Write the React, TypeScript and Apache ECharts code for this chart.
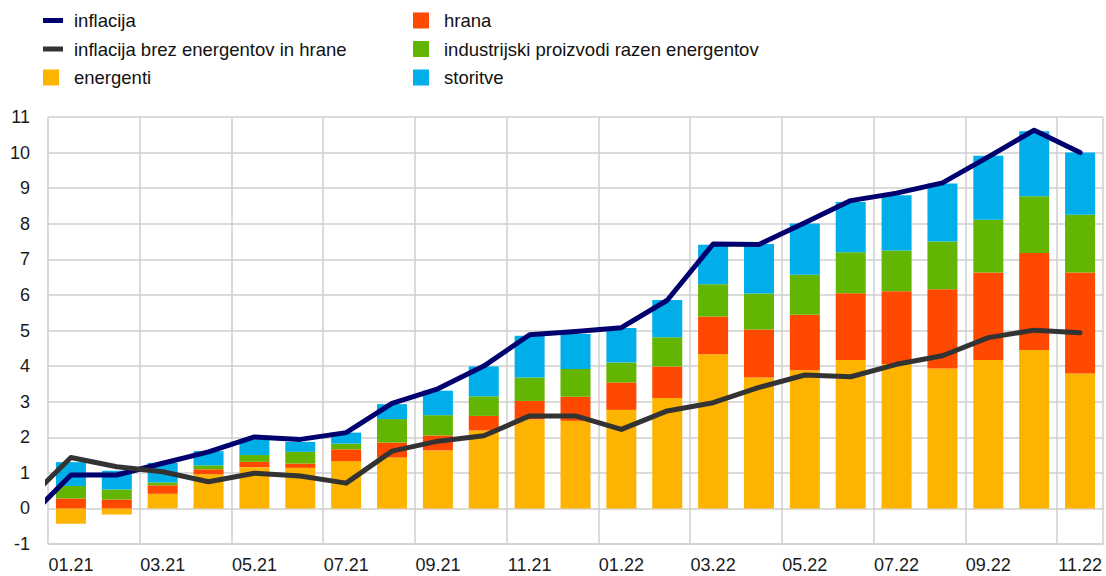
import React, { useEffect, useRef } from "react";
import * as echarts from "echarts";

const months = [
  "01.21", "02.21", "03.21", "04.21", "05.21", "06.21", "07.21", "08.21", "09.21", "10.21", "11.21", "12.21",
  "01.22", "02.22", "03.22", "04.22", "05.22", "06.22", "07.22", "08.22", "09.22", "10.22", "11.22",
];

const energenti = [-0.43, -0.17, 0.41, 0.96, 1.16, 1.14, 1.33, 1.43, 1.63, 2.19, 2.5, 2.46, 2.77, 3.1, 4.33, 3.68, 3.88, 4.17, 4.06, 3.93, 4.17, 4.45, 3.79];
const hrana = [0.28, 0.25, 0.24, 0.14, 0.15, 0.12, 0.33, 0.42, 0.42, 0.41, 0.52, 0.68, 0.77, 0.89, 1.06, 1.35, 1.56, 1.88, 2.04, 2.23, 2.46, 2.73, 2.84];
const industrijski = [0.35, 0.28, 0.08, 0.11, 0.19, 0.33, 0.16, 0.66, 0.57, 0.55, 0.66, 0.78, 0.56, 0.82, 0.91, 1.01, 1.13, 1.15, 1.15, 1.34, 1.48, 1.59, 1.62];
const storitve = [0.67, 0.53, 0.55, 0.4, 0.44, 0.28, 0.31, 0.42, 0.69, 0.84, 1.17, 0.98, 0.97, 1.05, 1.11, 1.39, 1.44, 1.41, 1.55, 1.63, 1.8, 1.83, 1.75];

const inflacija = [0.94, 0.94, 1.27, 1.59, 2.01, 1.94, 2.13, 2.95, 3.36, 4.0, 4.88, 4.97, 5.08, 5.85, 7.43, 7.42, 8.03, 8.65, 8.86, 9.15, 9.88, 10.63, 10.0];
const jedrna = [1.43, 1.17, 1.03, 0.75, 0.99, 0.91, 0.71, 1.61, 1.89, 2.04, 2.6, 2.6, 2.22, 2.74, 2.97, 3.4, 3.75, 3.7, 4.05, 4.29, 4.8, 5.01, 4.94];
// value of the previous month (12.20), only its segment is visible at the left edge
const inflacijaPrev = -0.36;
const jedrnaPrev = 0.17;

const yTicks = { min: -1, max: 11, interval: 1 };

const NAMES = {
  infl: "inflacija",
  core: "inflacija brez energentov in hrane",
  en: "energenti",
  food: "hrana",
  ind: "industrijski proizvodi razen energentov",
  serv: "storitve",
};

const COLORS = {
  infl: "#00006e",
  core: "#333333",
  en: "#fdb400",
  food: "#ff4800",
  ind: "#62b500",
  serv: "#00aeea",
};

const FONT = "'Liberation Sans', Arial, sans-serif";

const lineIcon = "path://M0,0h0.01v0.01h-0.01zM0,5.5h20v5h-20zM25.99,15.99h0.01v0.01h-0.01z";
const squareIcon = "path://M0,0h16v16h-16zM25.99,15.99h0.01v0.01h-0.01z";

export default function App() {
  const ref = useRef<HTMLDivElement>(null);
  useEffect(() => {
    if (!ref.current) return;
    const chart = echarts.init(ref.current, undefined, { renderer: "svg" });
    const toXY = (arr: number[], prev: number) => [[-1, prev], ...arr.map((v, i) => [i, v])];
    const legendCommon = {
      orient: "vertical" as const,
      top: 6,
      itemWidth: 26,
      itemHeight: 16,
      itemGap: 9.5,
      textStyle: { fontFamily: FONT, fontSize: 18.5, color: "#111", padding: [0, 0, 0, 0] },
      itemStyle: { borderWidth: 0 },
      lineStyle: { width: 0 },
      selectedMode: false,
    };
    const bar = (name: string, data: number[], color: string) => ({
      name,
      type: "bar",
      stack: "total",
      barWidth: 30,
      data,
      itemStyle: { color },
      xAxisIndex: 0,
      yAxisIndex: 0,
    });
    chart.setOption({
      animation: false,
      backgroundColor: "#ffffff",
      legend: [
        {
          ...legendCommon,
          left: 38,
          data: [
            { name: NAMES.infl, icon: lineIcon },
            { name: NAMES.core, icon: lineIcon },
            { name: NAMES.en, icon: squareIcon },
          ],
        },
        {
          ...legendCommon,
          left: 408,
          data: [
            { name: NAMES.food, icon: squareIcon },
            { name: NAMES.ind, icon: squareIcon },
            { name: NAMES.serv, icon: squareIcon },
          ],
        },
      ],
      grid: { left: 48, right: 3, top: 117, bottom: 32, containLabel: false },
      xAxis: [
        {
          type: "category",
          data: months,
          boundaryGap: true,
          axisLine: { onZero: false, lineStyle: { color: "#cfcfcf", width: 1.5 } },
          axisTick: { show: false },
          axisLabel: {
            interval: 1,
            fontFamily: FONT,
            fontSize: 18,
            color: "#1a1a1a",
            margin: 12,
          },
          splitLine: { show: true, interval: 1, lineStyle: { color: "#cfcfcf", width: 1.5 } },
        },
        {
          type: "value",
          min: -0.5,
          max: 22.5,
          show: false,
        },
      ],
      yAxis: {
        type: "value",
        min: yTicks.min,
        max: yTicks.max,
        interval: yTicks.interval,
        axisLine: { show: false },
        axisTick: { show: false },
        axisLabel: { fontFamily: FONT, fontSize: 18, color: "#1a1a1a", margin: 18 },
        splitLine: { lineStyle: { color: "#cfcfcf", width: 1.5 } },
      },
      series: [
        bar(NAMES.en, energenti, COLORS.en),
        bar(NAMES.food, hrana, COLORS.food),
        bar(NAMES.ind, industrijski, COLORS.ind),
        bar(NAMES.serv, storitve, COLORS.serv),
        {
          name: NAMES.infl,
          type: "line",
          xAxisIndex: 1,
          yAxisIndex: 0,
          data: toXY(inflacija, inflacijaPrev),
          showSymbol: false,
          symbol: "none",
          clip: true,
          itemStyle: { color: COLORS.infl },
          lineStyle: { color: COLORS.infl, width: 5, cap: "round", join: "round" },
          z: 5,
        },
        {
          name: NAMES.core,
          type: "line",
          xAxisIndex: 1,
          yAxisIndex: 0,
          data: toXY(jedrna, jedrnaPrev),
          showSymbol: false,
          symbol: "none",
          clip: true,
          itemStyle: { color: COLORS.core },
          lineStyle: { color: COLORS.core, width: 5, cap: "round", join: "round" },
          z: 6,
        },
      ],
    });
    return () => chart.dispose();
  }, []);
  return <div ref={ref} style={{ width: 1106, height: 576, position: "absolute", left: 0, top: 0 }} />;
}
